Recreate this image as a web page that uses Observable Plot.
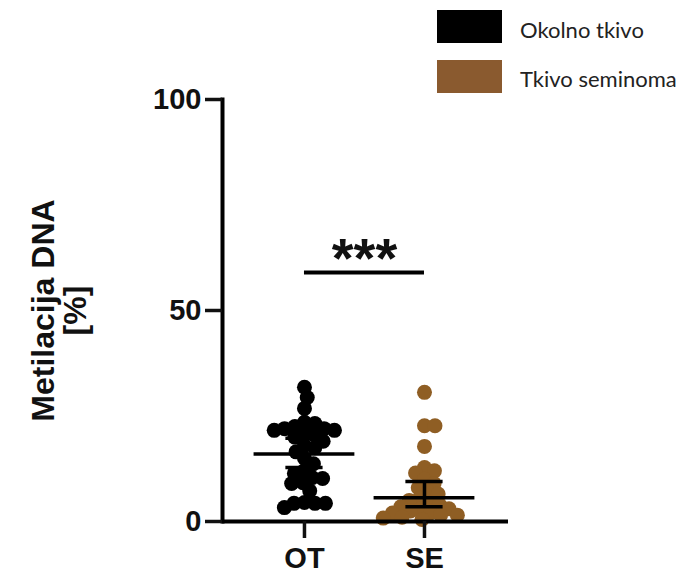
<!DOCTYPE html>
<html><head><meta charset="utf-8">
<script src="https://cdn.jsdelivr.net/npm/d3@7"></script>
<script src="https://cdn.jsdelivr.net/npm/@observablehq/plot@0.6"></script>
<style>
body{margin:0;background:#fff;}
#wrap{position:relative;width:682px;height:576px;}
.sw{position:absolute;left:437px;width:65px;height:33px;}
.lt{position:absolute;left:520px;font-family:Lato,'Open Sans',sans-serif;font-size:22px;line-height:1;color:#222;white-space:nowrap;}
</style></head><body><div id="wrap"></div>
<script>
// ---- data ----
const groups = ["OT", "SE"];
const groupNames = ["Okolno tkivo", "Tkivo seminoma"];
const groupColors = ["#000000", "#8f5e24"];
const legendColors = ["#000000", "#8a5a2f"];
const otValues = [31.8, 29.4, 26.8, 23.5, 23.2, 22.5, 22, 22, 21.6, 21.6, 21, 20.5, 20, 19, 18, 17.5, 16.5, 15, 13.7, 12.1, 11.4, 10.4, 10.2, 9.2, 9, 7.3, 4.5, 4.3, 4.3, 4.3, 3.3];
const seValues = [30.6, 22.7, 22.7, 17.8, 12.8, 12, 11.5, 10, 9, 8, 7, 6.5, 5.5, 5, 4.5, 4, 3.5, 3, 3, 2.5, 2, 2, 1.5, 1.5, 1, 0.8, 0.5];
const means = [16.0, 5.6];
const lowers = [12.8, 3.5];
const uppers = [19.7, 9.5];
const yTicks = [0, 50, 100];
const yLabel = "Metilacija DNA\n[%]";
const sigFrom = 0, sigTo = 1, sigLevel = 59, sigLabel = "***";

// ---- layout ----
const W = 682, H = 576, mL = 222, mR = 174, mT = 99, mB = 55;
const xDomain = [-0.683, 1.7];
const yDomain = [0, 100];
const R = 7.5, minDist = 10.5;
const pxPerY = (H - mT - mB) / (yDomain[1] - yDomain[0]);
const pxPerX = (W - mL - mR) / (xDomain[1] - xDomain[0]);

function swarm(values) {
  const placed = [], out = [];
  for (const v of values) {
    const y = v * pxPerY;
    const cands = [0];
    for (const p of placed) {
      const dy = y - p.y;
      if (Math.abs(dy) < minDist) {
        const dx = Math.sqrt(minDist * minDist - dy * dy);
        cands.push(p.x + dx, p.x - dx);
      }
    }
    cands.sort((a, b) => Math.abs(a) - Math.abs(b));
    let best = 0;
    for (const c of cands) {
      if (placed.every(p => (p.x - c) ** 2 + (p.y - y) ** 2 >= minDist * minDist - 1e-6)) { best = c; break; }
    }
    placed.push({x: best, y});
    out.push(best);
  }
  return out;
}

const points = [];
[otValues, seValues].forEach((vals, i) => {
  const offs = swarm(vals);
  vals.forEach((v, k) => points.push({group: groups[i], value: v, x: i + offs[k] / pxPerX}));
});
const stats = groups.map((g, i) => ({group: g, i, mean: means[i], lo: lowers[i], hi: uppers[i]}));
const sig = [{from: sigFrom, to: sigTo, level: sigLevel, label: sigLabel}];
const meanHalf = 0.42, capHalf = 0.155;

const chart = Plot.plot({
  width: W, height: H,
  marginLeft: mL, marginRight: mR, marginTop: mT, marginBottom: mB,
  style: {fontFamily: "'Liberation Sans', Arial, sans-serif", fontWeight: "bold", fontSize: "29px", color: "#111", background: "transparent"},
  x: {domain: xDomain, axis: null},
  y: {domain: yDomain, axis: null},
  color: {domain: groups, range: groupColors},
  marks: [
    Plot.dot(points, {x: "x", y: "value", r: R, fill: "group"}),
    Plot.ruleY(stats, {x1: d => d.i - meanHalf, x2: d => d.i + meanHalf, y: "mean", strokeWidth: 3.5, stroke: "#000"}),
    Plot.ruleY(stats, {x1: d => d.i - capHalf, x2: d => d.i + capHalf, y: "lo", strokeWidth: 3.5, stroke: "#000"}),
    Plot.ruleY(stats, {x1: d => d.i - capHalf, x2: d => d.i + capHalf, y: "hi", strokeWidth: 3.5, stroke: "#000"}),
    Plot.ruleX(stats, {x: "i", y1: "lo", y2: "hi", strokeWidth: 3.5, stroke: "#000"}),
    Plot.ruleY([0], {strokeWidth: 4, stroke: "#000"}),
    Plot.frame({anchor: "left", strokeWidth: 4, stroke: "#000"}),
    Plot.axisY({ticks: yTicks, tickSize: 17, tickPadding: 4, strokeWidth: 3.5, label: null}),
    Plot.axisX({ticks: [0, 1], tickFormat: i => groups[i], tickSize: 17, tickPadding: 9, strokeWidth: 3.5, label: null}),
    Plot.ruleY(sig, {x1: "from", x2: "to", y: "level", strokeWidth: 4, stroke: "#000"}),
    Plot.text(sig, {x: d => (d.from + d.to) / 2, y: "level", text: "label", fontSize: 56, dy: -13, fill: "#111"}),
    Plot.text([yLabel], {text: d => d, frameAnchor: "left", rotate: -90, textAnchor: "middle", lineHeight: 1, fontSize: 32, dx: -163, fill: "#111"})
  ]
});
const wrap = document.getElementById("wrap");
wrap.appendChild(chart);
chart.style.position = "absolute"; chart.style.left = "0"; chart.style.top = "0";

const swTops = [10, 60], textTops = [19, 68];
groupNames.forEach((name, i) => {
  const sw = document.createElement("div");
  sw.className = "sw"; sw.style.top = swTops[i] + "px"; sw.style.background = legendColors[i];
  wrap.appendChild(sw);
  const t = document.createElement("div");
  t.className = "lt"; t.style.top = textTops[i] + "px"; t.textContent = name;
  wrap.appendChild(t);
});
</script></body></html>
